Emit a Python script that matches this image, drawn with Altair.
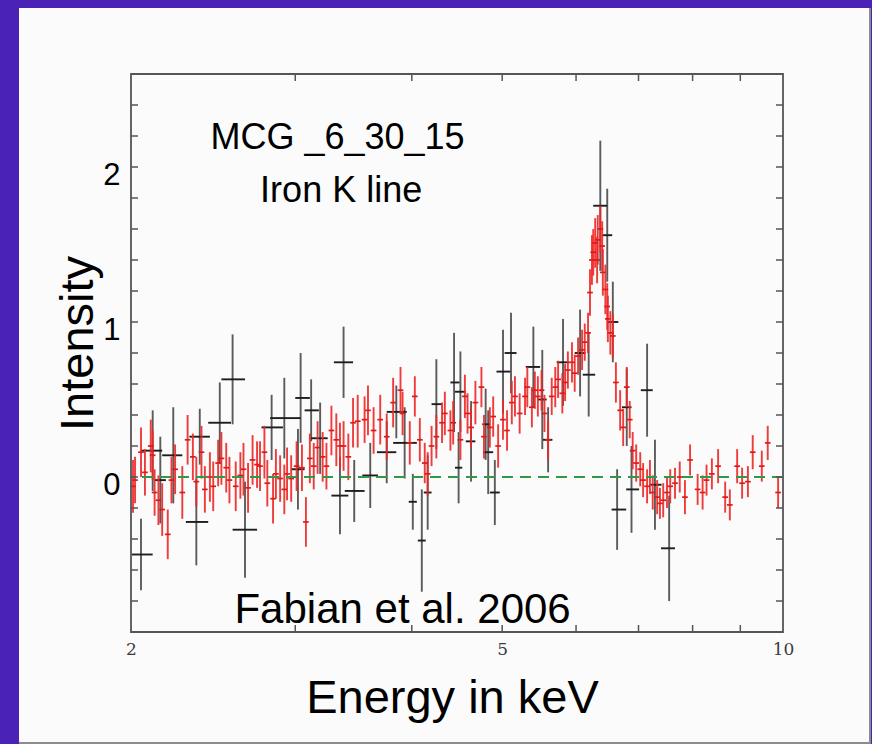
import altair as alt
import pandas as pd

# Fine-binned spectrum (red): bin centre energy (keV), residual intensity, 1-sigma error
red_energy = [
    2.01, 2.02, 2.05, 2.07, 2.10, 2.11, 2.12, 2.14, 2.16, 2.19,
    2.21, 2.23, 2.27, 2.30, 2.33, 2.35, 2.38, 2.40, 2.43, 2.45,
    2.48, 2.50, 2.53, 2.55, 2.59, 2.62, 2.64, 2.67, 2.70, 2.73,
    2.75, 2.78, 2.80, 2.84, 2.86, 2.89, 2.92, 2.94, 2.97, 3.01,
    3.05, 3.08, 3.11, 3.14, 3.17, 3.21, 3.24, 3.28, 3.32, 3.35,
    3.38, 3.42, 3.46, 3.50, 3.56, 3.59, 3.64, 3.70, 3.76, 3.82,
    3.89,
    3.91, 3.98, 4.03, 4.08, 4.13, 4.16, 4.20, 4.25, 4.31, 4.34,
    4.40, 4.43, 4.51, 4.56, 4.59, 4.63, 4.68, 4.75, 4.78, 4.85,
    4.89, 4.95, 5.01, 5.06, 5.12, 5.16, 5.22, 5.29, 5.32, 5.38,
    5.42, 5.46, 5.51, 5.55, 5.60, 5.65, 5.70, 5.74, 5.80, 5.84,
    5.88, 5.94, 5.98, 6.03, 6.09, 6.13, 6.18,
    6.21, 6.24, 6.26, 6.29, 6.32, 6.33, 6.37, 6.40, 6.41, 6.45,
    6.48, 6.49, 6.53, 6.57,
    6.62, 6.69, 6.74, 6.80, 6.85, 6.90, 6.96, 7.03, 7.08, 7.15,
    7.20, 7.25, 7.33, 7.38, 7.44, 7.51, 7.57, 7.66, 7.75, 7.85,
    7.95, 8.10, 8.20, 8.28, 8.39, 8.52, 8.67, 8.77, 8.93, 9.04,
    9.17, 9.28, 9.49, 9.63, 9.88,
]
red_value = [
    -0.06, -0.02, 0.16, 0.03, 0.20, 0.14, -0.10, -0.15, -0.21, -0.37,
    -0.02, 0.05, -0.10, 0.24, 0.13, -0.03, 0.16, -0.08, 0.00, -0.06,
    0.09, 0.12, 0.06, -0.02, -0.06, 0.01, 0.05, -0.07, 0.11, 0.08,
    0.07, 0.16, -0.04, -0.14, 0.02, -0.01, -0.08, 0.02, -0.01, 0.07,
    0.06, -0.29, 0.12, 0.07, 0.19, 0.13, 0.07, 0.30, 0.24, 0.20,
    0.20, 0.13, 0.35, 0.36, 0.37, 0.43, 0.30, 0.37, 0.26, 0.48,
    0.56,
    0.41, 0.22, 0.52, 0.24, 0.09, 0.02, 0.20, 0.26, 0.35, 0.41,
    0.30, 0.35, 0.24, 0.52, 0.41, 0.32, 0.48, 0.58, 0.26, 0.32,
    0.39, 0.20, 0.37, 0.30, 0.48, 0.52, 0.41, 0.52, 0.58, 0.45,
    0.56, 0.52, 0.56, 0.41, 0.24, 0.52, 0.58, 0.63, 0.54, 0.61,
    0.69, 0.74, 0.67, 0.78, 0.82, 0.87, 0.93,
    1.19, 1.40, 1.45, 1.51, 1.40, 1.53, 1.60, 1.49, 1.32, 1.21,
    1.10, 1.02, 0.93, 0.91,
    0.61, 0.43, 0.32, 0.58, 0.37, 0.17, 0.09, 0.05, -0.02, -0.06,
    0.00, -0.10, -0.13, -0.17, -0.15, -0.10, -0.06, -0.04, 0.00, -0.13,
    0.11, -0.08, -0.10, -0.02, 0.02, 0.07, -0.13, -0.18, 0.07, -0.04,
    -0.03, 0.16, 0.07, 0.22, -0.10,
]
red_err = [
    0.17, 0.15, 0.16, 0.15, 0.17, 0.16, 0.15, 0.16, 0.17, 0.16,
    0.15, 0.16, 0.17, 0.16, 0.15, 0.16, 0.17, 0.15, 0.16, 0.16,
    0.15, 0.17, 0.16, 0.15, 0.16, 0.15, 0.17, 0.16, 0.16, 0.15,
    0.16, 0.17, 0.15, 0.16, 0.16, 0.15, 0.16, 0.17, 0.15, 0.16,
    0.15, 0.16, 0.16, 0.15, 0.17, 0.16, 0.15, 0.16, 0.17, 0.15,
    0.16, 0.15, 0.16, 0.17, 0.15, 0.16, 0.15, 0.16, 0.15, 0.16,
    0.15,
    0.14, 0.14, 0.13, 0.14, 0.13, 0.14, 0.13, 0.14, 0.13, 0.14,
    0.13, 0.14, 0.13, 0.14, 0.13, 0.13, 0.14, 0.13, 0.14, 0.13,
    0.13, 0.14, 0.13, 0.13, 0.14, 0.13, 0.13, 0.12, 0.13, 0.13,
    0.12, 0.13, 0.13, 0.12, 0.13, 0.12, 0.13, 0.12, 0.13, 0.12,
    0.12, 0.13, 0.12, 0.12, 0.13, 0.12, 0.13,
    0.15, 0.16, 0.15, 0.16, 0.15, 0.16, 0.15, 0.16, 0.15, 0.16,
    0.15, 0.15, 0.14, 0.14,
    0.13, 0.13, 0.12, 0.13, 0.12, 0.12, 0.12, 0.11, 0.11, 0.11,
    0.11, 0.11, 0.11, 0.10, 0.11, 0.10, 0.11, 0.10, 0.10, 0.11,
    0.10, 0.10, 0.11, 0.10, 0.10, 0.11, 0.10, 0.10, 0.11, 0.10,
    0.10, 0.11, 0.10, 0.11, 0.10,
]
RED_HALF_BIN = 0.007  # fractional half-width of the fine energy bins

# Coarse-binned spectrum (black): centre, bin edges (keV), intensity, error
black_energy = [
    2.05, 2.11, 2.15, 2.22, 2.35, 2.37, 2.49, 2.57, 2.65, 2.83,
    2.92, 3.02, 3.04, 3.12, 3.19, 3.35, 3.38, 3.47, 3.61, 3.76,
    3.85, 3.93, 4.01, 4.10, 4.16, 4.25, 4.44, 4.49, 4.51, 4.63,
    4.80, 4.83, 4.91, 5.01, 5.11, 5.40, 5.52, 5.60, 5.81, 6.06,
    6.19, 6.37, 6.48, 6.57, 6.64, 6.80, 6.88, 7.15, 7.29, 7.55,
]
black_lo = [
    2.005, 2.05, 2.12, 2.16, 2.29, 2.31, 2.42, 2.50, 2.57, 2.76,
    2.82, 2.97, 3.00, 3.07, 3.12, 3.28, 3.30, 3.39, 3.54, 3.67,
    3.76, 3.82, 3.97, 4.06, 4.12, 4.20, 4.40, 4.45, 4.45, 4.57,
    4.76, 4.77, 4.85, 4.93, 5.03, 5.30, 5.46, 5.53, 5.72, 5.98,
    6.10, 6.26, 6.40, 6.49, 6.55, 6.72, 6.79, 7.04, 7.20, 7.40,
]
black_hi = [
    2.11, 2.16, 2.18, 2.27, 2.42, 2.43, 2.56, 2.65, 2.73, 2.91,
    3.04, 3.07, 3.11, 3.18, 3.25, 3.42, 3.46, 3.56, 3.68, 3.85,
    3.95, 4.05, 4.05, 4.14, 4.20, 4.31, 4.50, 4.53, 4.57, 4.68,
    4.85, 4.89, 4.97, 5.10, 5.18, 5.49, 5.58, 5.66, 5.90, 6.14,
    6.29, 6.48, 6.56, 6.66, 6.79, 6.88, 7.01, 7.25, 7.41, 7.66,
]
black_value = [
    -0.50, 0.17, -0.02, 0.14, -0.29, 0.26, 0.35, 0.63, -0.34, 0.32,
    0.38, 0.05, 0.51, 0.43, 0.25, -0.12, 0.74, -0.09, 0.01, 0.16,
    0.42, 0.22, -0.16, -0.41, -0.10, 0.47, 0.61, 0.06, 0.55, 0.23,
    0.34, 0.16, -0.10, 0.68, 0.80, 0.71, 0.50, 0.24, 0.74, 0.80,
    0.66, 1.75, 1.56, 1.00, -0.21, 0.45, -0.08, 0.56, -0.05, -0.46,
]
black_err = [
    0.23, 0.26, 0.28, 0.31, 0.28, 0.18, 0.26, 0.29, 0.31, 0.21,
    0.26, 0.26, 0.29, 0.20, 0.23, 0.25, 0.23, 0.20, 0.21, 0.20,
    0.17, 0.23, 0.18, 0.33, 0.24, 0.29, 0.32, 0.23, 0.26, 0.26,
    0.23, 0.27, 0.21, 0.27, 0.26, 0.26, 0.32, 0.21, 0.28, 0.28,
    0.27, 0.42, 0.30, 0.26, 0.26, 0.25, 0.28, 0.30, 0.29, 0.34,
]

# Axis ticks and labels
x_minor_ticks = [3, 4, 5, 6, 7, 8, 9]
x_labels = [2, 5, 10]
y_ticks = [-0.8, -0.6, -0.4, -0.2, 0.0, 0.2, 0.4, 0.6, 0.8, 1.0,
           1.2, 1.4, 1.6, 1.8, 2.0, 2.2, 2.4]
y_labels = [0, 1, 2]

# Annotations placed in data coordinates
note_text = ["MCG _6_30_15", "Iron K line", "Fabian et al. 2006"]
note_energy = [3.33, 3.36, 3.91]
note_value = [2.117, 1.773, -0.945]
note_size = [36, 36, 42]

W, H = 652, 558

red = pd.DataFrame({"E": red_energy, "v": red_value, "err": red_err})
red["lo"] = red["v"] - red["err"]
red["hi"] = red["v"] + red["err"]
red["elo"] = red["E"] * (1 - RED_HALF_BIN)
red["ehi"] = red["E"] * (1 + RED_HALF_BIN)

black = pd.DataFrame({"E": black_energy, "elo": black_lo, "ehi": black_hi,
                      "v": black_value, "err": black_err})
black["lo"] = black["v"] - black["err"]
black["hi"] = black["v"] + black["err"]

notes = pd.DataFrame({"t": note_text, "E": note_energy, "v": note_value, "s": note_size})

xscale = alt.Scale(type="log", domain=[2, 10], nice=False)
yscale = alt.Scale(domain=[-1.0, 2.6], nice=False, zero=False)

x_axis = alt.Axis(
    values=x_labels, format="d", title="Energy in keV", ticks=False, domain=False,
    grid=False, labelFont="DejaVu Serif", labelFontSize=17, labelColor="#3c3c3c",
    labelPadding=9, labelFlush=False, labelOverlap=False,
    titleFont="Liberation Sans", titleFontSize=47, titleFontWeight="normal",
    titleColor="black", titleX=321, titleY=80, titleAlign="center",
    titleBaseline="alphabetic", zindex=1,
)
y_axis = alt.Axis(
    values=y_labels, format="d", title="Intensity", ticks=False, domain=False,
    grid=False, labelFont="Liberation Sans", labelFontSize=31, labelColor="black",
    labelPadding=11, labelBaseline="middle", labelOffset=8, labelFlush=False,
    labelOverlap=False,
    titleFont="Liberation Sans", titleFontSize=47, titleFontWeight="normal",
    titleColor="black", titleAngle=270, titleX=-39, titleY=269,
    titleAlign="center", titleBaseline="alphabetic", zindex=1,
)


def X(field):
    return alt.X(field, type="quantitative", scale=xscale, axis=x_axis)


def Y(field):
    return alt.Y(field, type="quantitative", scale=yscale, axis=y_axis)


one = alt.Data(values=[{"k": 1}])

# Slide panel behind the plot
shadow = alt.Chart(one).mark_rect(fill="#8c8c8c").encode(
    x=alt.value(-112), x2=alt.value(740), y=alt.value(-66), y2=alt.value(670))
panel = alt.Chart(one).mark_rect(fill="#fbfbfb").encode(
    x=alt.value(-112), x2=alt.value(738), y=alt.value(-66), y2=alt.value(668))

# Coarse spectrum crosses
black_v = alt.Chart(black).mark_rule(color="#333333", strokeWidth=1.9, opacity=0.8).encode(
    x=X("E"), y=Y("lo"), y2="hi")
black_h = alt.Chart(black).mark_rule(color="#1e1e1e", strokeWidth=1.9).encode(
    x=X("elo"), x2="ehi", y=Y("v"))

# Fine spectrum crosses
red_v = alt.Chart(red).mark_rule(color="#ee2626", strokeWidth=1.9, opacity=0.9).encode(
    x=X("E"), y=Y("lo"), y2="hi")
red_h = alt.Chart(red).mark_rule(color="#e01818", strokeWidth=1.7).encode(
    x=X("elo"), x2="ehi", y=Y("v"))

# Zero level
zero = alt.Chart(pd.DataFrame({"v": [0.0]})).mark_rule(
    color="#2f9a45", strokeWidth=2, strokeDash=[11, 7]).encode(y=Y("v"))

# Inward ticks on all four sides
yt = pd.DataFrame({"t": y_ticks})
xt = pd.DataFrame({"t": x_minor_ticks})
tick_style = dict(color="#555555", strokeWidth=1.5)
left_ticks = alt.Chart(yt).mark_rule(**tick_style).encode(
    y=Y("t"), x=alt.value(0), x2=alt.value(7))
right_ticks = alt.Chart(yt).mark_rule(**tick_style).encode(
    y=Y("t"), x=alt.value(W - 7), x2=alt.value(W))
bottom_ticks = alt.Chart(xt).mark_rule(**tick_style).encode(
    x=X("t"), y=alt.value(H - 7), y2=alt.value(H))
top_ticks = alt.Chart(xt).mark_rule(**tick_style).encode(
    x=X("t"), y=alt.value(0), y2=alt.value(7))

frame = alt.Chart(one).mark_rect(filled=False, stroke="#555555", strokeWidth=1.8).encode(
    x=alt.value(0), x2=alt.value(W), y=alt.value(0), y2=alt.value(H))

labels = alt.Chart(notes).mark_text(
    font="Liberation Sans", color="black", align="center", baseline="alphabetic").encode(
    x=X("E"), y=Y("v"), text="t:N", size=alt.Size("s:Q", scale=None))

chart = alt.layer(
    shadow, panel, black_v, black_h, red_v, red_h, zero,
    left_ticks, right_ticks, bottom_ticks, top_ticks, frame, labels,
).properties(
    width=W, height=H,
    padding={"left": 131, "top": 74, "right": 89, "bottom": 112},
    autosize=alt.AutoSizeParams(type="none"),
    background="#4b22b6",
).configure_view(strokeWidth=0)

chart.save("out.html", embed_options={"renderer": "svg", "actions": False})
